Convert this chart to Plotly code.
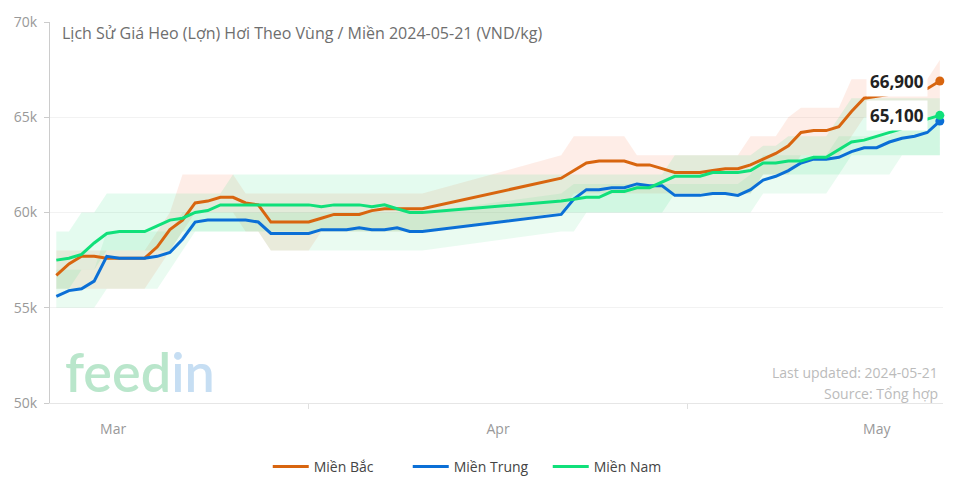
import plotly.graph_objects as go
import pandas as pd

# dates: daily, with a gap in April (no data 11-20 Apr)
dates = list(pd.date_range("2024-03-12", "2024-04-10")) + list(pd.date_range("2024-04-21", "2024-05-21"))

# prices in thousand VND/kg
mien_bac = [56.7, 57.3, 57.7, 57.7, 57.6, 57.6, 57.6, 57.6, 58.2, 59.1, 59.6, 60.5, 60.6, 60.8, 60.8,
            60.5, 60.4, 59.5, 59.5, 59.5, 59.5, 59.7, 59.9, 59.9, 59.9, 60.1, 60.2, 60.2, 60.2, 60.2,
            61.8, 62.2, 62.6, 62.7, 62.7, 62.7, 62.5, 62.5, 62.3, 62.1, 62.1, 62.1, 62.2, 62.3, 62.3,
            62.5, 62.8, 63.1, 63.5, 64.2, 64.3, 64.3, 64.5, 65.3, 66.0, 66.1, 66.2, 66.3, 66.4, 66.5, 66.9]
mien_trung = [55.6, 55.9, 56.0, 56.4, 57.7, 57.6, 57.6, 57.6, 57.7, 57.9, 58.6, 59.5, 59.6, 59.6, 59.6,
              59.6, 59.5, 58.9, 58.9, 58.9, 58.9, 59.1, 59.1, 59.1, 59.2, 59.1, 59.1, 59.2, 59.0, 59.0,
              59.9, 60.7, 61.2, 61.2, 61.3, 61.3, 61.5, 61.4, 61.4, 60.9, 60.9, 60.9, 61.0, 61.0, 60.9,
              61.2, 61.7, 61.9, 62.2, 62.6, 62.8, 62.8, 62.9, 63.2, 63.4, 63.4, 63.7, 63.9, 64.0, 64.2, 64.8]
mien_nam = [57.5, 57.6, 57.8, 58.4, 58.9, 59.0, 59.0, 59.0, 59.3, 59.6, 59.7, 60.0, 60.1, 60.4, 60.4,
            60.4, 60.4, 60.4, 60.4, 60.4, 60.4, 60.3, 60.4, 60.4, 60.4, 60.3, 60.4, 60.2, 60.0, 60.0,
            60.6, 60.7, 60.8, 60.8, 61.1, 61.1, 61.3, 61.3, 61.6, 61.9, 61.9, 61.9, 62.1, 62.1, 62.1,
            62.2, 62.6, 62.6, 62.7, 62.7, 62.9, 62.9, 63.3, 63.7, 63.8, 64.0, 64.2, 64.4, 64.6, 64.9, 65.1]

# min / max ranges per region (thousand VND/kg)
bac_lo = [56, 56, 56, 56, 56, 56, 56, 56, 57, 58, 59, 60, 60, 60, 60, 59, 59, 58, 58, 58, 58, 59, 59, 59, 59, 59, 59, 59, 59, 59,
          60, 61, 61, 61, 61, 61, 61, 61, 61, 61, 61, 61, 61, 61, 61, 61, 62, 62, 62, 63, 63, 63, 63, 64, 65, 65, 65, 65, 65, 65, 65]
bac_hi = [58, 58, 58, 58, 58, 58, 58, 58, 59, 60, 62, 62, 62, 62, 62, 61, 61, 61, 61, 61, 61, 61, 61, 61, 61, 61, 61, 61, 61, 61,
          63, 64, 64, 64, 64, 64, 63, 63, 63, 63, 63, 63, 63, 63, 63, 64, 64, 64, 65, 65.5, 65.5, 65.5, 65.5, 67, 67, 67, 67, 67, 67, 67, 68]
trung_lo = [55, 55, 55, 55, 56, 56, 56, 56, 56, 57, 58, 59, 59, 59, 59, 59, 59, 58, 58, 58, 58, 58, 58, 58, 58, 58, 58, 58, 58, 58,
            59, 59, 60, 60, 60, 60, 60, 60, 60, 60, 60, 60, 60, 60, 60, 60, 61, 61, 61, 61, 61, 61, 62, 62, 62, 62, 62, 63, 63, 63, 63]
trung_hi = [57, 57, 57, 57, 59, 59, 59, 59, 59, 59, 60, 60, 60, 60, 60, 60, 60, 60, 60, 60, 60, 60, 60, 60, 60, 60, 60, 60, 60, 60,
            61, 61.5, 61.5, 61.5, 61.5, 61.5, 61.5, 61.5, 61.5, 61.5, 61.5, 61.5, 61.5, 61.5, 61.5, 62, 63, 63, 63, 63, 63, 63, 64, 64, 64, 64, 64, 65, 65, 65, 65]
nam_lo = [56, 56, 57, 57, 58, 58, 58, 58, 58, 58, 59, 59, 59, 59, 59, 59, 59, 59, 59, 59, 59, 59, 59, 59, 59, 59, 59, 59, 59, 59,
          60, 60, 60, 60, 60, 60, 60, 60, 60, 61, 61, 61, 61, 61, 61, 61, 62, 62, 62, 62, 62, 62, 62, 63, 63, 63, 63, 63, 63, 63, 63]
nam_hi = [59, 59, 60, 60, 61, 61, 61, 61, 61, 61, 61, 61, 61, 61, 62, 62, 62, 62, 62, 62, 62, 62, 62, 62, 62, 62, 62, 62, 62, 62,
          62, 62, 62, 62, 62, 62, 62, 62, 62, 63, 63, 63, 63, 63, 63, 63, 63.5, 63.5, 64, 64, 64, 64, 65, 66, 66, 66, 66, 66, 66, 66, 66]

y_ticks = [50000, 55000, 60000, 65000, 70000]
y_tick_labels = ["50k", "55k", "60k", "65k", "70k"]

FONT = "Open Sans, Noto Sans, sans-serif"


def k(values):
    return [v * 1000 for v in values]


series = [
    ("Miền Bắc", mien_bac, bac_lo, bac_hi, "#d8650f", "rgba(250,150,110,0.17)"),
    ("Miền Trung", mien_trung, trung_lo, trung_hi, "#0b6fd6", "rgba(60,220,130,0.11)"),
    ("Miền Nam", mien_nam, nam_lo, nam_hi, "#10e07a", "rgba(30,225,120,0.12)"),
]

fig = go.Figure()

# range bands first so lines sit on top
for name, vals, lo, hi, _, band in series:
    fig.add_trace(go.Scatter(x=dates, y=k(lo), mode="lines", line=dict(width=0),
                             showlegend=False, hoverinfo="skip"))
    fig.add_trace(go.Scatter(x=dates, y=k(hi), mode="lines", line=dict(width=0),
                             fill="tonexty", fillcolor=band, showlegend=False, hoverinfo="skip"))

for name, vals, lo, hi, color, _ in series:
    fig.add_trace(go.Scatter(x=dates, y=k(vals), mode="lines", name=name,
                             line=dict(color=color, width=3)))
    # marker on the latest value
    fig.add_trace(go.Scatter(x=[dates[-1]], y=[vals[-1] * 1000], mode="markers",
                             marker=dict(color=color, size=9), showlegend=False, cliponaxis=False))

# latest price labels
for vals in (mien_bac, mien_nam):
    fig.add_annotation(x=dates[-1], y=vals[-1] * 1000, text=f"<b>{vals[-1] * 1000:,.0f}</b>",
                       showarrow=False, xanchor="right", xshift=-12, yanchor="middle",
                       bgcolor="white", borderpad=3,
                       font=dict(size=17, color="#222", family=FONT))

fig.add_annotation(xref="paper", yref="paper", x=0.011, y=0.971, xanchor="left", yanchor="middle",
                   text="Lịch Sử Giá Heo (Lợn) Hơi Theo Vùng / Miền 2024-05-21 (VND/kg)",
                   showarrow=False, font=dict(size=16, color="#6e6e6e", family=FONT))

# watermark
fig.add_annotation(xref="paper", yref="paper", x=0.014, y=0.083, xanchor="left", yanchor="middle",
                   text="<span style='color:#b9e6cb'>feed</span><span style='color:#c6def3'>in</span>",
                   showarrow=False, font=dict(size=54, family="Lato, sans-serif", weight=600))

fig.add_annotation(xref="paper", yref="paper", x=0.997, y=0.079, xanchor="right", yanchor="middle",
                   text="Last updated: 2024-05-21", showarrow=False,
                   font=dict(size=14, color="#bbbbbb", family=FONT))
fig.add_annotation(xref="paper", yref="paper", x=0.997, y=0.024, xanchor="right", yanchor="middle",
                   text="Source: Tổng hợp", showarrow=False,
                   font=dict(size=14, color="#bbbbbb", family=FONT))

# page body adds an 8px offset, margins compensate for it
fig.update_layout(
    width=964, height=480,
    margin=dict(l=42, r=29, t=14, b=85),
    plot_bgcolor="white", paper_bgcolor="white",
    font=dict(family=FONT, size=14, color="#999"),
    showlegend=True,
    legend=dict(orientation="h", x=0.479, xanchor="center",
                yref="container", y=0.044, yanchor="middle",
                font=dict(size=14, color="#444"), itemwidth=36,
                entrywidth=89, entrywidthmode="pixels", traceorder="normal"),
    hovermode="x unified",
)

fig.update_xaxes(
    type="date", automargin=False,
    range=["2024-03-11 12:00", "2024-05-21 06:00"],
    dtick="M1", tick0="2024-03-01", tickformat="%b", ticklabelmode="period",
    showgrid=False, showline=True, linecolor="#e6e6e6",
    ticks="outside", ticklen=5, tickcolor="#e0e0e0",
    tickfont=dict(size=14, color="#999"), ticklabelstandoff=8,
    zeroline=False,
)

fig.update_yaxes(
    range=[50000, 70000], automargin=False,
    tickvals=y_ticks, ticktext=y_tick_labels,
    showgrid=True, gridcolor="#f2f2f2",
    showline=True, linecolor="#cccccc", linewidth=1,
    ticks="outside", ticklen=5, tickcolor="#cccccc",
    tickfont=dict(size=14, color="#999"), ticklabelstandoff=4,
    zeroline=False,
)

fig.write_html("out.html")
